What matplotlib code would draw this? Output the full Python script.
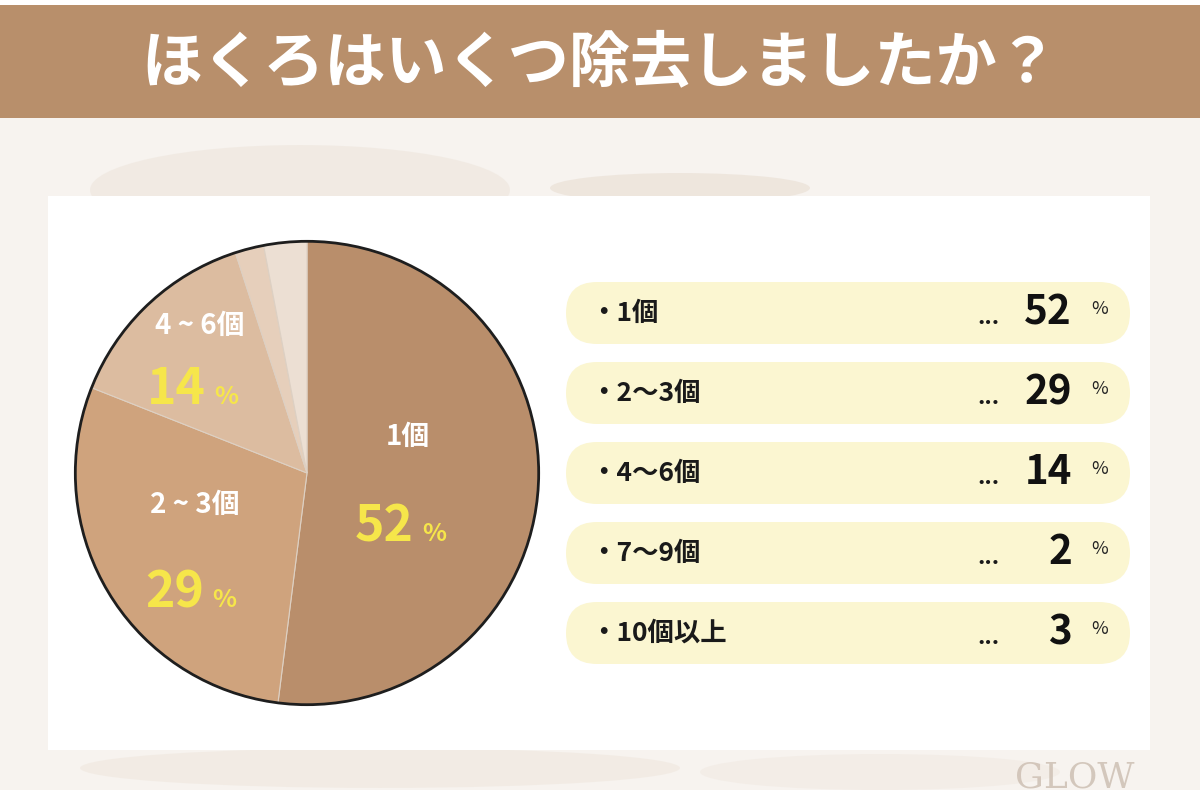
import matplotlib.pyplot as plt
from matplotlib.patches import Rectangle, FancyBboxPatch, Circle, Ellipse

plt.rcParams['font.family'] = ['Noto Sans CJK JP', 'DejaVu Sans']

# Survey data
title = 'ほくろはいくつ除去しましたか？'
labels = ['1個', '2〜3個', '4〜6個', '7〜9個', '10個以上']
pie_labels = ['1個', '2 ~ 3個', '4 ~ 6個']
values = [52, 29, 14, 2, 3]
colors = ['#b98e6b', '#cfa37d', '#dcbca0', '#e6cfbb', '#ecdfd3']

fig = plt.figure(figsize=(12, 8), dpi=100)
fig.patch.set_facecolor('#f7f3ef')

# Full-figure axes in pixel units for background elements
bg = fig.add_axes([0, 0, 1, 1])
bg.set_xlim(0, 1200)
bg.set_ylim(800, 0)
bg.axis('off')

# faint textured background blobs
for (cx, cy, w, h, c) in [(300, 190, 420, 90, '#ece3d9'), (680, 188, 260, 30, '#e6dacd'),
                          (380, 768, 600, 40, '#eee5db'), (880, 772, 360, 36, '#f0e8e0')]:
    bg.add_patch(Ellipse((cx, cy), w, h, color=c, alpha=0.5, lw=0))

bg.add_patch(Rectangle((0, 0), 1200, 5, color='white', lw=0))
bg.add_patch(Rectangle((0, 790), 1200, 10, color='white', lw=0))

# title banner
bg.add_patch(Rectangle((0, 5), 1200, 113, color='#b88f6b', lw=0))
bg.text(600, 63, title, color='white', fontsize=44, fontweight='bold',
        ha='center', va='center')

# white panel
bg.add_patch(Rectangle((48, 196), 1102, 554, color='white', lw=0))

# legend pills
row_y = [313, 393, 473, 553, 633]
for lab, val, y in zip(labels, values, row_y):
    bg.add_patch(FancyBboxPatch((566, y - 31), 564, 62,
                                boxstyle='round,pad=0,rounding_size=31',
                                fc='#fbf6d1', ec='none'))
    bg.text(590, y, '・' + lab, fontsize=19, fontweight='bold', color='#1a1a1a',
            ha='left', va='center')
    bg.text(988, y + 5, '...', fontsize=16, fontweight='bold', color='#1a1a1a',
            ha='center', va='center')
    bg.text(1072, y, str(val), fontsize=29, fontweight='bold', color='#111111',
            ha='right', va='center')
    bg.text(1100, y - 4, '%', fontsize=13, color='#222222', ha='center', va='center')

# watermark
bg.text(1075, 778, 'GLOW', fontsize=26, color='#cbbdb0', family='DejaVu Serif',
        ha='center', va='center', alpha=0.8)

# pie chart
cx, cy, r = 307, 473, 234
ax = fig.add_axes([(cx - r) / 1200, (800 - cy - r) / 800, 2 * r / 1200, 2 * r / 800])
ax.pie(values, colors=colors, startangle=90, counterclock=False, radius=1,
       wedgeprops=dict(edgecolor='#ddd0c3', linewidth=0.8))
ax.add_patch(Circle((0, 0), 1, fill=False, ec='#1e1e1e', lw=2))
ax.set_xlim(-1.01, 1.01)
ax.set_ylim(-1.01, 1.01)
ax.axis('off')

# overlay for labels inside the pie
ov = fig.add_axes([0, 0, 1, 1])
ov.set_xlim(0, 1200)
ov.set_ylim(800, 0)
ov.axis('off')
ov.patch.set_alpha(0)

label_pos = [(408, 437), (195, 505), (200, 326)]
pct_pos = [(400, 527), (190, 593), (192, 390)]
for lab, val, (lx, ly), (px, py) in zip(pie_labels, values, label_pos, pct_pos):
    ov.text(lx, ly, lab, fontsize=20, fontweight='bold', color='white',
            ha='center', va='center')
    ov.text(px + 14, py, str(val), fontsize=36, fontweight='bold', color='#f6e64a',
            ha='right', va='center')
    ov.text(px + 34, py + 7, '%', fontsize=18, fontweight='bold', color='#f6e64a',
            ha='center', va='center')

fig.savefig('out.png', dpi=100)
